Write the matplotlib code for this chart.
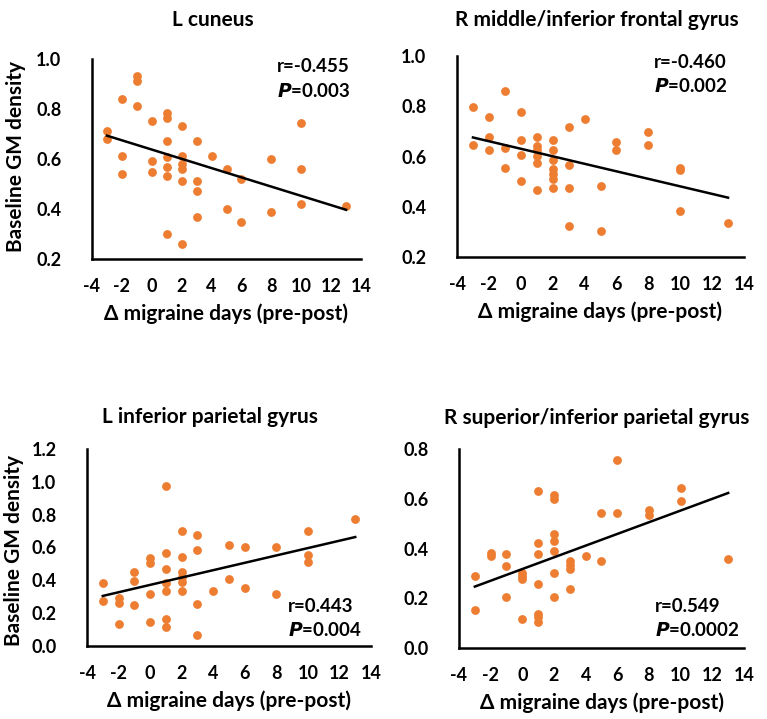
import numpy as np
import matplotlib.pyplot as plt

plt.rcParams['font.family'] = ['Lato', 'DejaVu Sans']
plt.rcParams['font.weight'] = 'bold'
plt.rcParams['axes.unicode_minus'] = False

ORANGE = '#ED7D31'

# L cuneus
x1 = [-3, -3, -2, -2, -2, -1, -1, -1, 0, 0, 0,
      1, 1, 1, 1, 1, 1, 1, 2, 2, 2, 2, 2, 2,
      3, 3, 3, 3, 4, 5, 5, 6, 6, 8, 8, 10, 10, 10, 13]
y1 = [0.713, 0.68, 0.84, 0.611, 0.539, 0.933, 0.911, 0.811, 0.752, 0.591, 0.549,
      0.784, 0.764, 0.671, 0.608, 0.569, 0.532, 0.299, 0.732, 0.612, 0.581, 0.56, 0.512, 0.261,
      0.671, 0.512, 0.471, 0.369, 0.611, 0.559, 0.40, 0.521, 0.349, 0.60, 0.389, 0.743, 0.559, 0.421, 0.411]

# R middle/inferior frontal gyrus
x2 = [-3, -3, -2, -2, -2, -1, -1, -1, 0, 0, 0, 0,
      1, 1, 1, 1, 1, 1, 2, 2, 2, 2, 2, 2, 2,
      3, 3, 3, 3, 4, 5, 5, 6, 6, 8, 8, 10, 10, 10, 13]
y2 = [0.799, 0.645, 0.757, 0.679, 0.627, 0.861, 0.635, 0.555, 0.779, 0.667, 0.605, 0.504,
      0.677, 0.64, 0.627, 0.603, 0.575, 0.467, 0.667, 0.627, 0.587, 0.549, 0.529, 0.509, 0.473,
      0.717, 0.565, 0.473, 0.324, 0.748, 0.484, 0.304, 0.659, 0.625, 0.697, 0.645, 0.556, 0.545, 0.385, 0.336]

# L inferior parietal gyrus
x3 = [-3, -3, -2, -2, -2, -1, -1, -1, 0, 0, 0, 0,
      1, 1, 1, 1, 1, 1, 1, 2, 2, 2, 2, 2, 2,
      3, 3, 3, 3, 4, 5, 5, 6, 6, 8, 8, 10, 10, 10, 13]
y3 = [0.382, 0.277, 0.291, 0.259, 0.133, 0.449, 0.396, 0.252, 0.533, 0.503, 0.318, 0.144,
      0.976, 0.564, 0.47, 0.386, 0.338, 0.164, 0.113, 0.699, 0.542, 0.451, 0.421, 0.392, 0.334,
      0.679, 0.585, 0.256, 0.068, 0.334, 0.615, 0.408, 0.605, 0.355, 0.605, 0.318, 0.699, 0.554, 0.513, 0.773]

# R superior/inferior parietal gyrus
x4 = [-3, -3, -2, -2, -1, -1, -1, 0, 0, 0, 0,
      1, 1, 1, 1, 1, 1, 1, 2, 2, 2, 2, 2, 2, 2,
      3, 3, 3, 3, 4, 5, 5, 6, 6, 8, 8, 10, 10, 13]
y4 = [0.289, 0.154, 0.381, 0.368, 0.378, 0.328, 0.205, 0.301, 0.289, 0.276, 0.115,
      0.632, 0.422, 0.378, 0.259, 0.138, 0.124, 0.105, 0.614, 0.597, 0.459, 0.43, 0.389, 0.30, 0.207,
      0.351, 0.332, 0.318, 0.236, 0.369, 0.543, 0.349, 0.757, 0.543, 0.554, 0.534, 0.642, 0.592, 0.357]

titles = ['L cuneus', 'R middle/inferior frontal gyrus',
          'L inferior parietal gyrus', 'R superior/inferior parietal gyrus']
r_texts = ['r=-0.455', 'r=-0.460', 'r=0.443', 'r=0.549']
p_texts = ['0.003', '0.002', '0.004', '0.0002']
ylims = [(0.2, 1.0), (0.2, 1.0), (0.0, 1.2), (0.0, 0.8)]

W, H = 767, 719
fig = plt.figure(figsize=(W / 100, H / 100), dpi=100)

# axes boxes in pixels: left, top, right, bottom
boxes = [(92, 59, 361, 259), (457, 56, 744, 257),
         (87, 449, 371, 646), (459, 449, 744, 648)]
title_pos = [(213, 20), (597, 20), (210, 417), (597, 418)]
text_pos = [(277, 67), (654, 62), (288, 606), (655, 606)]

data = [(x1, y1), (x2, y2), (x3, y3), (x4, y4)]

for i, (xs, ys) in enumerate(data):
    l, t, r, b = boxes[i]
    ax = fig.add_axes([l / W, 1 - b / H, (r - l) / W, (b - t) / H])
    xs = np.array(xs)
    ys = np.array(ys)
    ax.scatter(xs, ys, s=40, color=ORANGE, zorder=3, linewidths=0)

    # linear fit
    k, c = np.polyfit(xs, ys, 1)
    xl = np.array([xs.min(), xs.max()])
    ax.plot(xl, k * xl + c, color='black', lw=1.8, zorder=4)

    ax.set_xlim(-4, 14)
    ax.set_ylim(*ylims[i])
    ax.set_xticks(np.arange(-4, 15, 2))
    ax.set_yticks(np.arange(ylims[i][0], ylims[i][1] + 0.01, 0.2))
    ax.yaxis.set_major_formatter(plt.FormatStrFormatter('%.1f'))
    ax.tick_params(length=0, labelsize=13, pad=22)
    ax.tick_params(axis='x', pad=14)
    for lab in ax.get_xticklabels() + ax.get_yticklabels():
        lab.set_fontweight('bold')
    for s in ['top', 'right']:
        ax.spines[s].set_visible(False)
    for s in ['left', 'bottom']:
        ax.spines[s].set_linewidth(1.8)
    ax.set_xlabel('Δ migraine days (pre-post)', fontsize=15, fontweight='bold', labelpad=6)

    tx, ty = title_pos[i]
    fig.text(tx / W, 1 - ty / H, titles[i], ha='center', va='center',
             fontsize=15, fontweight='bold')
    px, py = text_pos[i]
    fig.text(px / W, 1 - py / H, r_texts[i], ha='left', va='center',
             fontsize=13.5, fontweight='bold')
    fig.text(px / W, 1 - (py + 24) / H, r'$\mathbf{\mathit{P}}$=' + p_texts[i],
             ha='left', va='center', fontsize=13.5, fontweight='bold')

fig.text(16 / W, 1 - 157 / H, 'Baseline GM density', rotation=90,
         ha='center', va='center', fontsize=15, fontweight='bold')
fig.text(14 / W, 1 - 550 / H, 'Baseline GM density', rotation=90,
         ha='center', va='center', fontsize=15, fontweight='bold')

fig.savefig('out.png', dpi=100)
